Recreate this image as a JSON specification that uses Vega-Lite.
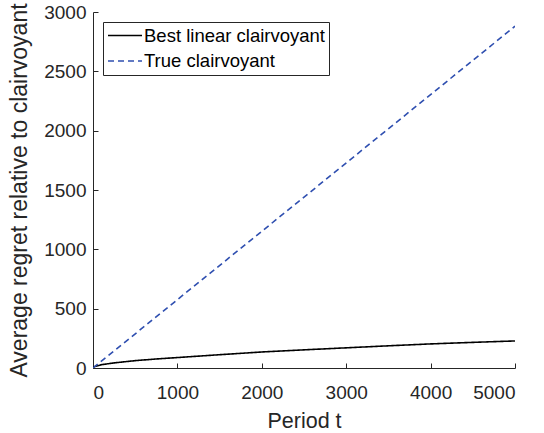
{
  "$schema": "https://vega.github.io/schema/vega-lite/v6.json",
  "width": 422,
  "height": 356,
  "autosize": {"type": "none"},
  "padding": {"left": 93, "top": 12, "right": 29, "bottom": 65},
  "background": "white",
  "config": {
    "view": {"stroke": null},
    "font": "Liberation Sans",
    "axis": {"grid": false, "domainColor": "#262626", "tickColor": "#262626", "labelColor": "#262626", "titleColor": "#262626", "labelFont": "Liberation Sans", "titleFont": "Liberation Sans", "labelFontSize": 19, "titleFontWeight": "normal", "tickSize": -5, "domainWidth": 1, "tickWidth": 1, "format": "d"}
  },
  "data": {"values": [
    {"t": 0, "v": 8, "s": "Best linear clairvoyant"},
    {"t": 100, "v": 28, "s": "Best linear clairvoyant"},
    {"t": 250, "v": 43, "s": "Best linear clairvoyant"},
    {"t": 500, "v": 62, "s": "Best linear clairvoyant"},
    {"t": 750, "v": 76, "s": "Best linear clairvoyant"},
    {"t": 1000, "v": 88, "s": "Best linear clairvoyant"},
    {"t": 1500, "v": 112, "s": "Best linear clairvoyant"},
    {"t": 2000, "v": 135, "s": "Best linear clairvoyant"},
    {"t": 2500, "v": 153, "s": "Best linear clairvoyant"},
    {"t": 3000, "v": 170, "s": "Best linear clairvoyant"},
    {"t": 3500, "v": 187, "s": "Best linear clairvoyant"},
    {"t": 4000, "v": 203, "s": "Best linear clairvoyant"},
    {"t": 4500, "v": 216, "s": "Best linear clairvoyant"},
    {"t": 5000, "v": 228, "s": "Best linear clairvoyant"},
    {"t": 0, "v": 0, "s": "True clairvoyant"},
    {"t": 5000, "v": 2880, "s": "True clairvoyant"}
  ]},
  "mark": {"type": "line", "strokeWidth": 1.6, "clip": true},
  "encoding": {
    "x": {"field": "t", "type": "quantitative", "title": "Period t", "scale": {"domain": [0, 5000], "nice": false}, "axis": {"values": [0, 1000, 2000, 3000, 4000, 5000], "labelPadding": 20, "titlePadding": 8, "titleFontSize": 21.5}},
    "y": {"field": "v", "type": "quantitative", "title": "Average regret relative to clairvoyant", "scale": {"domain": [0, 3000], "nice": false}, "axis": {"values": [0, 500, 1000, 1500, 2000, 2500, 3000], "labelPadding": 12, "titlePadding": 12, "titleFontSize": 23}},
    "color": {"field": "s", "type": "nominal", "scale": {"domain": ["Best linear clairvoyant", "True clairvoyant"], "range": ["#000000", "#2f4fb0"]},
      "legend": {"orient": "none", "legendX": 10, "legendY": 10, "title": null, "strokeColor": "#262626", "fillColor": "white", "padding": 4, "labelFontSize": 18.5, "labelColor": "#000000", "labelFont": "Liberation Sans", "labelLimit": 400, "symbolType": "M-1,0H3", "symbolSize": 289, "symbolStrokeWidth": 1.5, "rowPadding": 6.5, "labelOffset": 18}},
    "strokeDash": {"field": "s", "type": "nominal", "scale": {"domain": ["Best linear clairvoyant", "True clairvoyant"], "range": [[1, 0], [6, 4]]}, "legend": null}
  }
}
